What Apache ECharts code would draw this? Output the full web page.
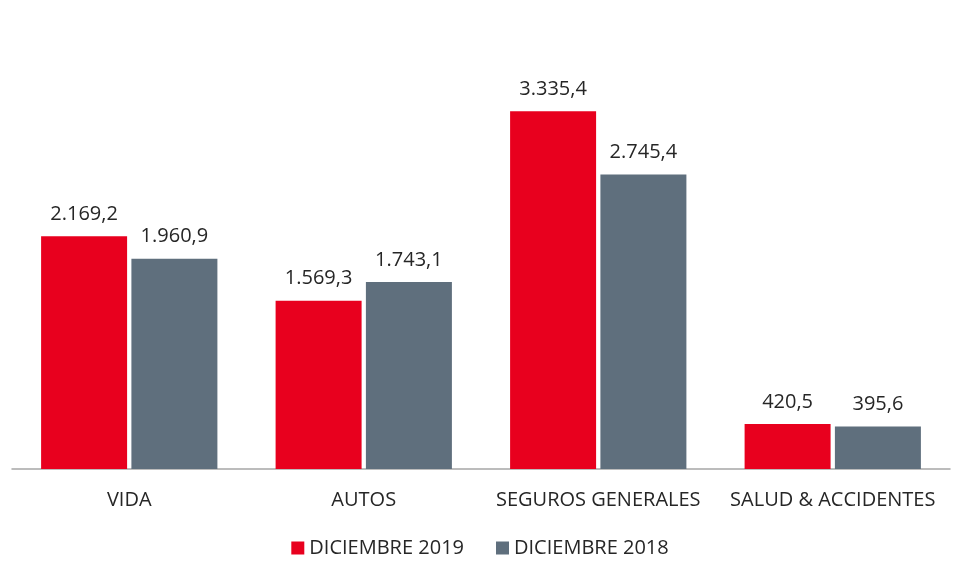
<!DOCTYPE html>
<html>
<head>
<meta charset="utf-8">
<script src="https://cdn.jsdelivr.net/npm/echarts@6/dist/echarts.min.js"></script>
<style>
  html, body { margin: 0; padding: 0; background: #fff; }
  #chart { width: 960px; height: 572px; }
</style>
</head>
<body>
<div id="chart"></div>
<script>
const categories = ['VIDA', 'AUTOS', 'SEGUROS GENERALES', 'SALUD & ACCIDENTES'];
const dic2019 = [2169.2, 1569.3, 3335.4, 420.5];
const dic2018 = [1960.9, 1743.1, 2745.4, 395.6];
const seriesNames = ['DICIEMBRE 2019', 'DICIEMBRE 2018'];

// formato 1.234,5
function fmt(v) {
  let parts = v.toFixed(1).split('.');
  parts[0] = parts[0].replace(/\B(?=(\d{3})+(?!\d))/g, '.');
  return parts[0] + ',' + parts[1];
}

const font = "'Open Sans', 'Noto Sans', sans-serif";

let chart = echarts.init(document.getElementById('chart'));
chart.setOption({
  animation: false,
  textStyle: { fontFamily: font },
  grid: { left: 12, right: 10, top: 40, bottom: 103 },
  legend: {
    bottom: 9,
    left: 'center',
    itemWidth: 13,
    itemHeight: 13,
    itemGap: 32,
    icon: 'rect',
    textStyle: { fontSize: 20, color: '#262626', fontFamily: font },
    data: seriesNames
  },
  xAxis: {
    type: 'category',
    data: categories,
    axisLine: { lineStyle: { color: '#a6a6a6', width: 1.5 } },
    axisTick: { show: false },
    axisLabel: {
      interval: 0, hideOverlap: false,
      fontSize: 20, color: '#262626', margin: 21, fontFamily: font
    }
  },
  yAxis: {
    type: 'value',
    min: 0,
    max: 4000,
    show: false,
    splitLine: { show: false }
  },
  series: [
    {
      name: seriesNames[0],
      type: 'bar',
      data: dic2019,
      barWidth: 86,
      barGap: '5%',
      itemStyle: { color: '#e8001e' },
      label: {
        show: true, position: 'top', distance: 12,
        fontSize: 20, color: '#262626', fontFamily: font,
        formatter: p => fmt(p.value)
      }
    },
    {
      name: seriesNames[1],
      type: 'bar',
      data: dic2018,
      barWidth: 86,
      barGap: '5%',
      itemStyle: { color: '#5f6f7d' },
      label: {
        show: true, position: 'top', distance: 12,
        fontSize: 20, color: '#262626', fontFamily: font,
        formatter: p => fmt(p.value)
      }
    }
  ]
});
</script>
</body>
</html>
